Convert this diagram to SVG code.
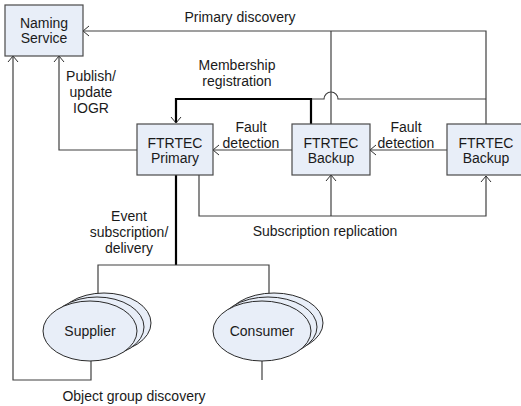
<svg xmlns="http://www.w3.org/2000/svg" width="521" height="406" viewBox="0 0 521 406">
<defs>
<marker id="arr" markerUnits="userSpaceOnUse" markerWidth="12" markerHeight="12" viewBox="-8 -6 10 12" refX="0" refY="0" orient="auto" overflow="visible">
<path d="M-6,-5 L0,0 L-6,5" fill="none" stroke="#303030" stroke-width="1"/>
</marker>
<style>
text{font-family:"Liberation Sans",Arial,sans-serif;font-size:14px;fill:#1a1a1a;text-anchor:middle}
.box{fill:#e8eef8;stroke:#4a4a4a;stroke-width:1.2}
.ell{fill:#e8eef8;stroke:#2a2a2a;stroke-width:1}
.ln{fill:none;stroke:#404040;stroke-width:1.2}
.thick{fill:none;stroke:#000;stroke-width:2.2}
</style>
</defs>
<rect width="521" height="406" fill="#fff"/>
<g id="connectors">
<path class="ln" d="M486,124 V31 H83" marker-end="url(#arr)"/>
<path class="ln" d="M331,124 V31"/>
<path class="ln" d="M486,99 H338 A7,7 0 0 0 324,99 H311"/>
<path class="thick" d="M311,124 V99 H176 V123" marker-end="url(#arr)"/>
<path class="ln" d="M292,150 H213" marker-end="url(#arr)"/>
<path class="ln" d="M447,150 H370" marker-end="url(#arr)"/>
<path class="ln" d="M137,150 H59 V56" marker-end="url(#arr)"/>
<path class="thick" d="M176,175 V265"/>
<path class="ln" d="M98,296 V265 H269 V296"/>
<path class="ln" d="M199,175 V216 H486 V176" marker-end="url(#arr)"/>
<path class="ln" d="M331,216 V175" marker-end="url(#arr)"/>
<path class="ln" d="M91,360 V380 H13 V56" marker-end="url(#arr)"/>
<path class="ln" d="M262,360 V380"/>
</g>
<g id="labels">
<text x="240" y="22">Primary discovery</text>
<text x="237" y="70">Membership</text>
<text x="237" y="86">registration</text>
<text x="91" y="81">Publish/</text>
<text x="91" y="97">update</text>
<text x="91" y="113">IOGR</text>
<text x="251" y="132">Fault</text>
<text x="251" y="148">detection</text>
<text x="406" y="132">Fault</text>
<text x="406" y="148">detection</text>
<text x="129" y="221">Event</text>
<text x="129" y="237">subscription/</text>
<text x="129" y="253">delivery</text>
<text x="325" y="236">Subscription replication</text>
<text x="134" y="401">Object group discovery</text>
</g>
<g id="naming">
<rect class="box" x="5" y="5" width="78" height="51"/>
<text x="44" y="28">Naming</text>
<text x="44" y="43">Service</text>
</g>
<g id="primary">
<rect class="box" x="137" y="124" width="76" height="51"/>
<text x="175" y="148">FTRTEC</text>
<text x="175" y="163">Primary</text>
</g>
<g id="backup1">
<rect class="box" x="292" y="124" width="78" height="51"/>
<text x="331" y="148">FTRTEC</text>
<text x="331" y="163">Backup</text>
</g>
<g id="backup2">
<rect class="box" x="447" y="124" width="78" height="51"/>
<text x="486" y="148">FTRTEC</text>
<text x="486" y="163">Backup</text>
</g>
<g id="supplier">
<ellipse class="ell" cx="104" cy="323" rx="47" ry="30"/>
<ellipse class="ell" cx="97" cy="327" rx="47" ry="30"/>
<ellipse class="ell" cx="90" cy="331" rx="47" ry="30"/>
<text x="90" y="336">Supplier</text>
</g>
<g id="consumer">
<ellipse class="ell" cx="274" cy="323" rx="49" ry="30"/>
<ellipse class="ell" cx="268" cy="327" rx="49" ry="30"/>
<ellipse class="ell" cx="262" cy="331" rx="49" ry="30"/>
<text x="262" y="336">Consumer</text>
</g>
</svg>
